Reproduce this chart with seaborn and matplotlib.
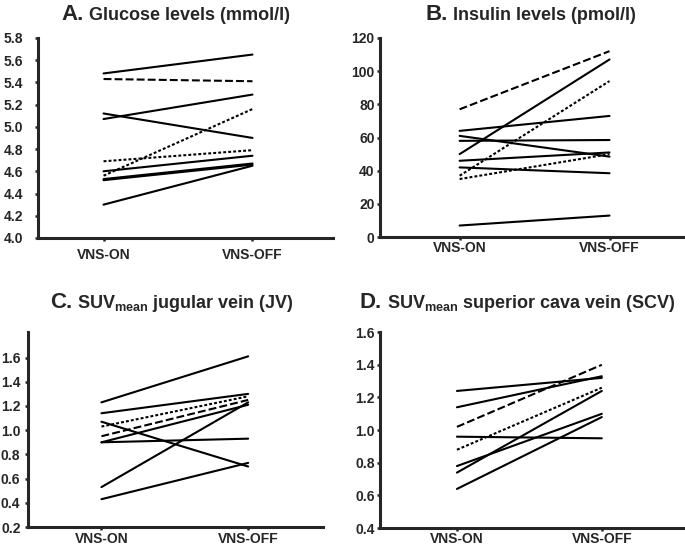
import pandas as pd
import seaborn as sns
import matplotlib.pyplot as plt
from matplotlib.offsetbox import TextArea, HPacker, AnchoredOffsetbox

conditions = ['VNS-ON', 'VNS-OFF']

# A. glucose (mmol/l)
glucose_on = [5.48, 5.07, 5.12, 4.60, 4.52, 4.53, 4.30, 5.43, 4.69, 4.56]
glucose_off = [5.65, 5.29, 4.90, 4.74, 4.66, 4.67, 4.65, 5.41, 4.79, 5.16]
glucose_kind = ['solid'] * 7 + ['dashed', 'dotted', 'dotted']

# B. insulin (pmol/l)
insulin_on = [50, 64, 58, 61, 46, 42, 7, 77, 37, 35]
insulin_off = [107, 73, 58.5, 48.5, 51, 38.5, 13, 112, 94, 50]
insulin_kind = ['solid'] * 7 + ['dashed', 'dotted', 'dotted']

# C. SUVmean jugular vein
jv_on = [1.23, 1.14, 1.07, 0.90, 0.90, 0.53, 0.43, 0.95, 1.03]
jv_off = [1.61, 1.30, 0.70, 1.21, 0.93, 1.23, 0.73, 1.25, 1.28]
jv_kind = ['solid'] * 7 + ['dashed', 'dotted']

# D. SUVmean superior cava vein
scv_on = [1.24, 1.14, 0.96, 0.78, 0.74, 0.64, 1.02, 0.88]
scv_off = [1.32, 1.33, 0.95, 1.10, 1.24, 1.08, 1.40, 1.26]
scv_kind = ['solid'] * 6 + ['dashed', 'dotted']


def long_df(on, off, kind):
    rows = []
    for i in range(len(on)):
        rows.append({'subject': i, 'condition': conditions[0], 'value': on[i], 'kind': kind[i]})
        rows.append({'subject': i, 'condition': conditions[1], 'value': off[i], 'kind': kind[i]})
    return pd.DataFrame(rows)


sns.set_style('ticks')
plt.rcParams['font.family'] = ['Liberation Sans', 'DejaVu Sans']
plt.rcParams['font.weight'] = 'bold'
plt.rcParams['mathtext.fontset'] = 'custom'
plt.rcParams['mathtext.rm'] = 'Liberation Sans:bold'
plt.rcParams['mathtext.bf'] = 'Liberation Sans:bold'

fig = plt.figure(figsize=(6.85, 5.49), dpi=100)

panels = [
    # data, axes rect, xlim, ylim, yticks, fmt, ypad, xpad, letter, title, title pos
    (long_df(glucose_on, glucose_off, glucose_kind), [0.0555, 0.5665, 0.4305, 0.3645],
     (-0.44, 1.54), (4.0, 5.8), [4.0 + 0.2 * i for i in range(10)], '{:.1f}', 8, 4.5,
     'A.', 'Glucose levels (mmol/l)', (0.257, 0.973)),
    (long_df(insulin_on, insulin_off, insulin_kind), [0.555, 0.568, 0.442, 0.363],
     (-0.53, 1.49), (0, 120), list(range(0, 121, 20)), '{:.0f}', 1.5, 0.5,
     'B.', 'Insulin levels (pmol/l)', (0.775, 0.973)),
    (long_df(jv_on, jv_off, jv_kind), [0.041, 0.040, 0.4305, 0.355],
     (-0.50, 1.51), (0.2, 1.81), [0.2 + 0.2 * i for i in range(8)], '{:.1f}', 3, 1,
     'C.', r'SUV$_{\mathbf{mean}}$ jugular vein (JV)', (0.251, 0.448)),
    (long_df(scv_on, scv_off, scv_kind), [0.555, 0.038, 0.442, 0.357],
     (-0.53, 1.56), (0.4, 1.6), [0.4 + 0.2 * i for i in range(7)], '{:.1f}', 1.5, 0.3,
     'D.', r'SUV$_{\mathbf{mean}}$ superior cava vein (SCV)', (0.756, 0.448)),
]

dash_map = {'solid': '', 'dashed': (3.8, 1.5), 'dotted': (1.4, 1.0)}
axes = []

for df, rect, xlim, ylim, yticks, fmt, ypad, xpad, letter, title, tpos in panels:
    ax = fig.add_axes(rect)
    sns.lineplot(data=df, x='condition', y='value', units='subject', estimator=None,
                 style='kind', style_order=['solid', 'dashed', 'dotted'], dashes=dash_map,
                 color='black', linewidth=1.5, legend=False, sort=False, ax=ax)
    ax.set_xlim(*xlim)
    ax.set_ylim(*ylim)
    ax.tick_params(axis='y', length=2.5, width=1.8, pad=ypad, labelsize=10)
    ax.tick_params(axis='x', length=2.5, width=1.8, pad=xpad, labelsize=10)
    ax.set_xticks(range(len(conditions)))
    ax.set_xticklabels(conditions)
    ax.set_yticks(yticks)
    ax.set_yticklabels([fmt.format(v) for v in yticks])
    ax.set_xlabel('')
    ax.set_ylabel('')
    sns.despine(ax=ax)
    for side in ['left', 'bottom']:
        ax.spines[side].set_linewidth(2.2)
    axes.append(ax)

    head = HPacker(children=[
        TextArea(letter, textprops=dict(fontsize=16, fontweight='bold')),
        TextArea(' ' + title, textprops=dict(fontsize=13, fontweight='bold')),
    ], align='baseline', pad=0, sep=0)
    box = AnchoredOffsetbox(loc='center', child=head, pad=0, borderpad=0, frameon=False,
                            bbox_to_anchor=tpos, bbox_transform=fig.transFigure)
    fig.add_artist(box)

fig.canvas.draw()
for ax in axes:
    for lab in ax.get_xticklabels() + ax.get_yticklabels():
        lab.set_fontweight('bold')

fig.savefig('out.png', dpi=100)
